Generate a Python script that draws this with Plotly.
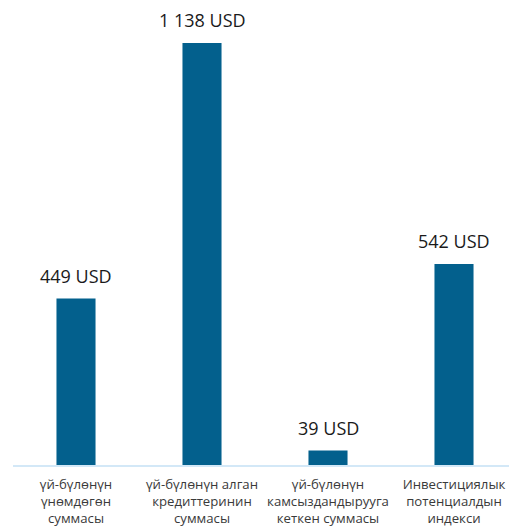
import plotly.graph_objects as go

categories = [
    "үй-бүлөнүн<br>үнөмдөгөн<br>суммасы",
    "үй-бүлөнүн алган<br>кредиттеринин<br>суммасы",
    "үй-бүлөнүн<br>камсыздандырууга<br>кеткен суммасы",
    "Инвестициялык<br>потенциалдын<br>индекси",
]
values = [449, 1138, 39, 542]
value_labels = ["449 USD", "1 138 USD", "39 USD", "542 USD"]

bar_color = "#03608D"

fig = go.Figure()
fig.add_trace(go.Bar(
    x=categories,
    y=values,
    marker=dict(color=bar_color, line=dict(width=0)),
    width=0.31,
    hoverinfo="skip",
))

for c, v, t in zip(categories, values, value_labels):
    fig.add_annotation(
        x=c, y=v, text=t, showarrow=False,
        yanchor="bottom", yshift=9,
        font=dict(family="Open Sans", size=18, color="#1a1a1a"),
    )

# page body has an 8px default margin; size the figure to compensate
fig.update_layout(
    width=509, height=522,
    margin=dict(l=5, r=0, t=2, b=65, autoexpand=False),
    paper_bgcolor="white",
    plot_bgcolor="white",
    showlegend=False,
    font=dict(family="Open Sans", size=13, color="#3a3a3a"),
)
fig.update_xaxes(
    showline=True, linecolor="#d3e8f7", linewidth=2,
    showgrid=False, ticks="", tickangle=0, automargin=False,
    ticklabelstandoff=6,
    tickfont=dict(family="Open Sans", size=13.2, color="#3a3a3a"),
)
fig.update_yaxes(
    range=[0, 1227], visible=False, showgrid=False, zeroline=False,
)

fig.write_html("out.html")
